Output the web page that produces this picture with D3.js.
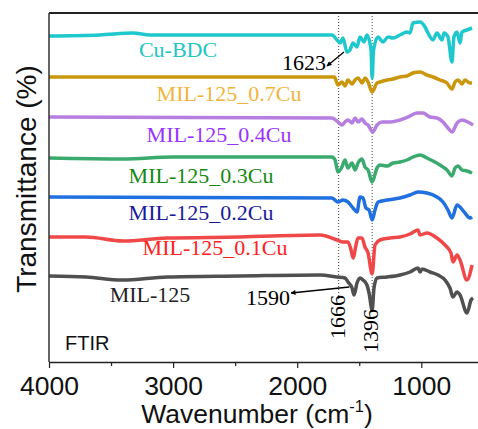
<!DOCTYPE html>
<html>
<head>
<meta charset="utf-8">
<script src="https://cdn.jsdelivr.net/npm/d3@7"></script>
<style>
body { margin: 0; background: #fff; }
svg { display: block; }
.label { font-family: "Liberation Serif", "Times New Roman", serif; font-size: 22px; }
.sans { font-family: "Liberation Sans", Arial, sans-serif; }
</style>
</head>
<body>
<svg class="main" width="478" height="429"></svg>
<script>
// spectra: [wavenumber, relative transmittance], stacked with offsets below
var milData = [[4000,0],[3700,-1],[3412,-4],[3049,-1],[2461,0],[1816,1],[1679,-1],[1615,-2],[1591,-6],[1558,-12],[1542,-19],[1518,-7],[1494,-2],[1470,-4],[1438,-9],[1421,-17],[1396,-34],[1381,-12],[1357,-2],[1276,-1],[1172,1],[1091,4],[1027,8],[1010,4],[994,7],[930,4],[865,1],[809,-4],[769,-12],[745,-21],[712,-16],[688,-19],[632,-37],[599,-24],[583,-22]];
var cu01Data = [[4000,-1],[3700,-1],[3404,-5],[3049,-2],[2461,-1],[1816,1],[1679,-4],[1631,-6],[1591,-6],[1566,-14],[1550,-22],[1526,-9],[1510,-2],[1478,-2],[1454,-11],[1429,-17],[1396,-38],[1373,-9],[1333,-4],[1252,-2],[1172,-1],[1091,2],[1027,6],[1010,1],[954,3],[874,-2],[809,-9],[761,-17],[745,-26],[712,-19],[688,-24],[632,-44],[591,-29]];
var cu02Data = [[4000,0],[1720,-1],[1671,-5],[1631,-3],[1591,-5],[1550,-11],[1518,-15],[1494,0],[1470,-1],[1446,-11],[1421,-13],[1396,-23],[1373,-13],[1349,-5],[1276,-3],[1172,-1],[1091,2],[1027,5],[954,4],[874,0],[825,-5],[785,-13],[753,-21],[712,-8],[688,-10],[648,-16],[608,-21],[591,-20]];
var cu03Data = [[4000,-1],[3400,-2],[3000,0],[1720,0],[1695,-3],[1671,-15],[1639,-10],[1615,-3],[1591,-11],[1558,-6],[1534,-13],[1510,-6],[1478,-2],[1454,-10],[1429,-13],[1396,-25],[1357,-11],[1333,-8],[1276,-9],[1228,-6],[1172,-5],[1115,-3],[1067,0],[1010,2],[954,-1],[906,-4],[849,-8],[793,-13],[753,-19],[728,-11],[704,-9],[672,-13],[632,-14],[591,-16]];
var cu04Data = [[4000,0],[1720,-1],[1671,-5],[1639,-8],[1615,-5],[1591,-3],[1558,-6],[1534,-1],[1510,-5],[1478,-2],[1454,-6],[1429,-8],[1392,-15],[1357,-8],[1317,-5],[1252,-5],[1172,-3],[1107,0],[1035,4],[986,4],[930,0],[874,-1],[825,-5],[785,-11],[753,-15],[712,-6],[672,-3],[624,-5],[583,-8]];
var cu07Data = [[4000,0],[1700,0],[1695,-1],[1671,-8],[1639,-5],[1615,-9],[1591,-3],[1558,-7],[1534,-3],[1510,-1],[1478,-6],[1454,-1],[1429,-5],[1396,-15],[1357,-6],[1333,-5],[1276,-3],[1228,-2],[1172,0],[1115,1],[1067,4],[1010,5],[954,2],[906,0],[849,-3],[793,-6],[753,-12],[728,-5],[704,-3],[672,-7],[648,-3],[608,-6],[591,-6]];
var cuBdcData = [[4000,-1],[3589,0],[3323,2],[3186,0],[2783,0],[1977,0],[1720,0],[1679,-5],[1655,-8],[1631,-3],[1599,-17],[1575,-15],[1550,-8],[1518,-12],[1494,-2],[1462,-7],[1438,0],[1405,-15],[1396,-43],[1385,-15],[1349,-2],[1309,-7],[1268,-2],[1228,-3],[1172,0],[1115,3],[1091,2],[1067,12],[1010,13],[970,8],[946,2],[906,-5],[874,2],[833,-5],[817,2],[785,-2],[753,-27],[737,-2],[712,3],[688,-8],[672,3],[632,5],[591,7]];

var seriesNames = ["MIL-125", "MIL-125_0.1Cu", "MIL-125_0.2Cu", "MIL-125_0.3Cu", "MIL-125_0.4Cu", "MIL-125_0.7Cu", "Cu-BDC"];
var seriesData = [milData, cu01Data, cu02Data, cu03Data, cu04Data, cu07Data, cuBdcData];
var seriesOffsets = [86, 126, 165, 205, 245, 285, 327];
var majorTicks = [4000, 3000, 2000, 1000];
var minorTicks = [3500, 2500, 1500];
var markLines = [1666, 1396];

var lineColors = ["#505050", "#f04848", "#2070e0", "#3aaa6e", "#b57ee0", "#c9960c", "#1fc8cc"],
    labelColors = ["#222222", "#ff2020", "#1a1a9a", "#138a13", "#9933ff", "#f0b43c", "#20c5c5"],
    // label centre x / baseline y, px
    labelPos = [[150, 302], [215, 255], [201, 220], [201, 183], [219, 142], [229, 101], [178, 57]];

var plot = { left: 49, top: 13, bottom: 362, right: 478 },
    main = d3.select(".main");

var x = d3.scaleLinear().domain([4000, 500]).range([plot.left, plot.left + 3500 * 0.1241]),
    y = d3.scaleLinear().domain([0, 349]).range([plot.bottom, plot.top]);

var line = d3.line()
    .curve(d3.curveMonotoneX)
    .x(function(d) { return x(d[0]); })
    .y(function(d) { return y(d[1]); });

// dotted markers
main.selectAll(".mark")
    .data(markLines).enter()
    .append("line")
    .attr("x1", function(d) { return x(d); })
    .attr("x2", function(d) { return x(d); })
    .attr("y1", plot.top)
    .attr("y2", function(d, i) { return i === 0 ? 300 : 310; })
    .attr("stroke", "#444")
    .attr("stroke-width", 1)
    .attr("stroke-dasharray", "1,2");

main.selectAll(".spectrum")
    .data(seriesData).enter()
    .append("path")
    .attr("class", "spectrum")
    .attr("fill", "none")
    .attr("stroke", function(d, i) { return lineColors[i]; })
    .attr("stroke-width", 3.5)
    .attr("stroke-linejoin", "round")
    .attr("d", function(d, i) {
        var off = seriesOffsets[i];
        return line(d.map(function(p) { return [p[0], p[1] + off]; }));
    });

main.selectAll(".label")
    .data(seriesNames).enter()
    .append("text")
    .attr("class", "label")
    .attr("text-anchor", "middle")
    .attr("x", function(d, i) { return labelPos[i][0]; })
    .attr("y", function(d, i) { return labelPos[i][1]; })
    .attr("fill", function(d, i) { return labelColors[i]; })
    .text(function(d) { return d; });

// frame
main.append("line")
    .attr("x1", plot.left).attr("x2", plot.right)
    .attr("y1", plot.top).attr("y2", plot.top)
    .attr("stroke", "#222").attr("stroke-width", 2);
main.append("line")
    .attr("x1", plot.left).attr("x2", plot.left)
    .attr("y1", plot.top).attr("y2", plot.bottom)
    .attr("stroke", "#333").attr("stroke-width", 1.5);

var xAxis = main.append("g")
    .attr("transform", "translate(0," + plot.bottom + ")")
    .call(d3.axisBottom(x).tickValues(majorTicks).tickSize(6).tickSizeOuter(0).tickPadding(8).tickFormat(d3.format("d")));
xAxis.select(".domain").attr("stroke", "#222").attr("stroke-width", 1.5);
xAxis.selectAll(".tick line").attr("stroke", "#222").attr("stroke-width", 1.2);
xAxis.selectAll("text")
    .attr("class", "sans")
    .attr("font-size", 26.5)
    .attr("fill", "#111");

var xMinor = main.append("g")
    .attr("transform", "translate(0," + plot.bottom + ")")
    .call(d3.axisBottom(x).tickValues(minorTicks).tickSize(4).tickSizeOuter(0).tickFormat(""));
xMinor.select(".domain").remove();
xMinor.selectAll(".tick line").attr("stroke", "#222").attr("stroke-width", 1.2);

// titles
var xTitle = main.append("text")
    .attr("class", "sans")
    .attr("text-anchor", "middle")
    .attr("x", 257)
    .attr("y", 423)
    .attr("font-size", 26.5)
    .attr("fill", "#111");
xTitle.append("tspan").text("Wavenumber (cm");
xTitle.append("tspan").attr("font-size", 16.5).attr("dy", -11).text("-1");
xTitle.append("tspan").attr("dy", 11).text(")");

main.append("text")
    .attr("class", "sans")
    .attr("text-anchor", "middle")
    .attr("transform", "translate(36,179) rotate(-90)")
    .attr("font-size", 28)
    .attr("fill", "#111")
    .text("Transmittance (%)");

main.append("text")
    .attr("class", "sans")
    .attr("x", 65)
    .attr("y", 350)
    .attr("font-size", 20)
    .attr("fill", "#111")
    .text("FTIR");

// peak annotations
main.append("defs").append("marker")
    .attr("id", "head")
    .attr("viewBox", "0 0 10 10")
    .attr("refX", 9).attr("refY", 5)
    .attr("markerWidth", 7).attr("markerHeight", 5)
    .attr("markerUnits", "userSpaceOnUse")
    .attr("orient", "auto")
    .append("path")
    .attr("d", "M0,0L10,5L0,10z")
    .attr("fill", "#000");

main.append("line")
    .attr("x1", x(1623)).attr("y1", y(310))
    .attr("x2", x(1760)).attr("y2", y(296))
    .attr("stroke", "#000").attr("stroke-width", 1.3)
    .attr("marker-end", "url(#head)");
main.append("line")
    .attr("x1", x(1580)).attr("y1", y(75))
    .attr("x2", x(2050)).attr("y2", y(69))
    .attr("stroke", "#000").attr("stroke-width", 1.3)
    .attr("marker-end", "url(#head)");

main.append("text")
    .attr("class", "label")
    .attr("x", 282).attr("y", 70)
    .attr("fill", "#000")
    .text("1623");
main.append("text")
    .attr("class", "label")
    .attr("x", 246).attr("y", 305)
    .attr("fill", "#000")
    .text("1590");

main.selectAll(".rot")
    .data([[1666, 317], [1396, 331]]).enter()
    .append("text")
    .attr("class", "label")
    .attr("text-anchor", "middle")
    .attr("transform", function(d) {
        return "translate(" + (x(d[0]) + 6) + "," + d[1] + ") rotate(-90)";
    })
    .attr("fill", "#000")
    .text(function(d) { return d[0]; });
</script>
</body>
</html>
